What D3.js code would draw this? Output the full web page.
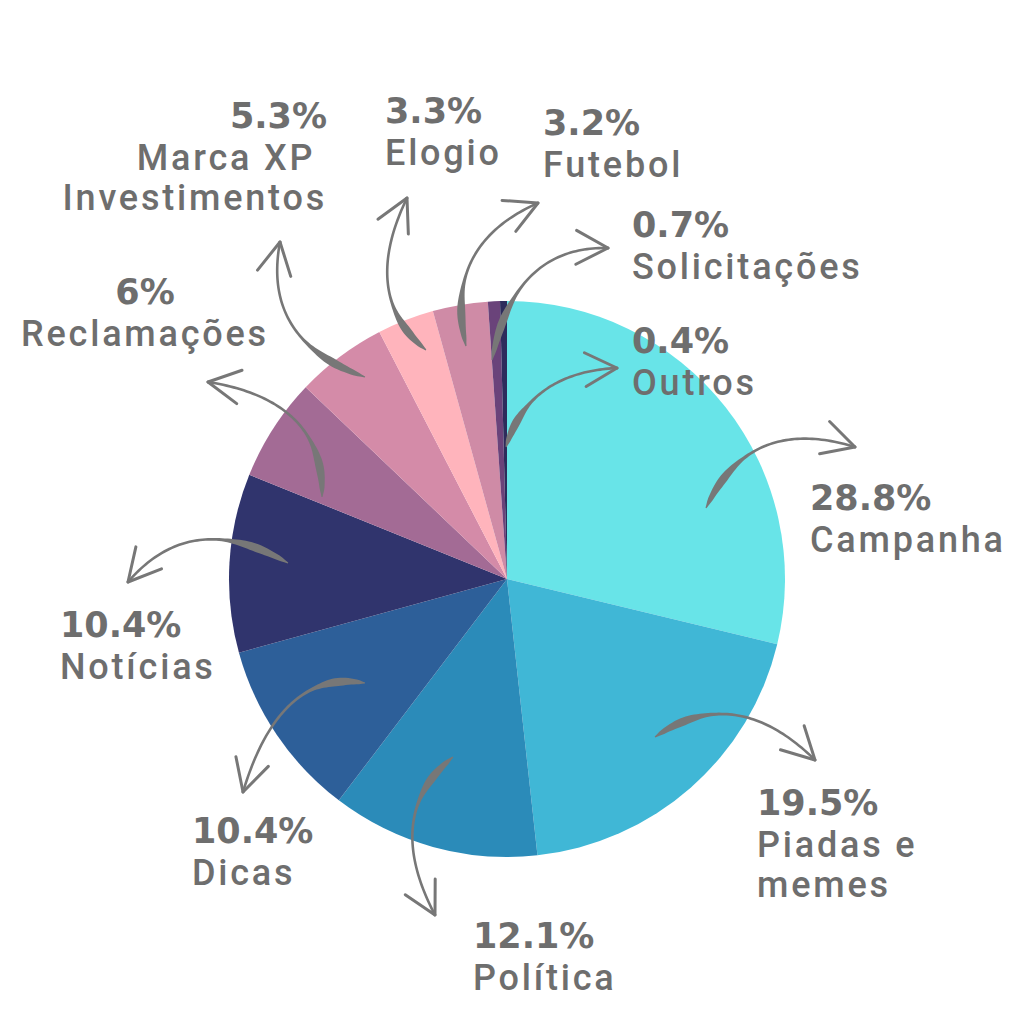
<!DOCTYPE html>
<html><head><meta charset="utf-8">
<script src="https://cdn.jsdelivr.net/npm/d3@7"></script>
<style>
html,body{margin:0;padding:0;background:#fff;}
svg{display:block;}
text{font-family:Roboto,"Noto Sans",sans-serif;fill:#6e6e6e;}
</style></head>
<body>
<svg id="chart" width="1024" height="1024"></svg>
<script>
// ---- data ----
const categories = ["Campanha","Piadas e memes","Política","Dicas","Notícias","Reclamações","Marca XP Investimentos","Elogio","Futebol","Solicitações","Outros"];
const values = [28.8,19.5,12.1,10.4,10.4,6,5.3,3.3,3.2,0.7,0.4];
const colors = ["#68e4e8","#40b7d6","#2b8bb9","#2d5f99","#30346d","#a36b95","#d48ba8","#ffb4bc","#cf8ba6","#6a437a","#2d2c5c"];
// label text lines (after the percentage line)
const labelLines = [["Campanha"],["Piadas e","memes"],["Política"],["Dicas"],["Notícias"],["Reclamações"],["Marca XP ","Investimentos"],["Elogio"],["Futebol"],["Solicitações"],["Outros"]];

// ---- layout (positions only) ----
const cx = 507, cy = 579, R = 278;
// x, baseline of first line, anchor
const labelPos = [
  {x:810,y:510,a:"start"},
  {x:757,y:815,a:"start"},
  {x:473,y:948,a:"start"},
  {x:192,y:843,a:"start"},
  {x:60,y:637,a:"start"},
  {x:145,y:304,a:"middle"},
  {x:327,y:128,a:"end"},
  {x:385,y:123,a:"start"},
  {x:543,y:135,a:"start"},
  {x:632,y:237,a:"start"},
  {x:632,y:353,a:"start"}
];
// arrows: start, mid, end (tip)
const arrows = [
  [[706,508],[765,446],[855,447]],
  [[655,737],[735,715],[815,760]],
  [[453,757],[413,825],[435,915]],
  [[365,683],[292,703],[243,792]],
  [[288,563],[200,540],[128,582]],
  [[322,497],[295,420],[208,382]],
  [[365,377],[292,325],[280,242]],
  [[426,350],[388,285],[407,198]],
  [[466,346],[472,260],[538,203]],
  [[492,360],[532,275],[608,248]],
  [[506,447],[545,390],[617,368]]
];

const svg = d3.select("#chart");

// ---- pie ----
const pie = d3.pie().sort(null).value(d => d);
const arc = d3.arc().innerRadius(0).outerRadius(R);
const g = svg.append("g").attr("transform", `translate(${cx},${cy})`);
g.selectAll("path").data(pie(values)).join("path")
  .attr("d", arc)
  .attr("fill", (d,i) => colors[i]);

// ---- arrows ----
const arrowColor = "#777";
function qpt(s,c,e,t){const u=1-t;return [u*u*s[0]+2*u*t*c[0]+t*t*e[0], u*u*s[1]+2*u*t*c[1]+t*t*e[1]];}
function qtan(s,c,e,t){const u=1-t;return [2*u*(c[0]-s[0])+2*t*(e[0]-c[0]), 2*u*(c[1]-s[1])+2*t*(e[1]-c[1])];}
const ag = svg.append("g");
arrows.forEach(([s,m,e]) => {
  const c = [2*m[0]-(s[0]+e[0])/2, 2*m[1]-(s[1]+e[1])/2];
  const N = 60, left = [], right = [];
  for (let k=0;k<=N;k++){
    const t = k/N;
    const p = qpt(s,c,e,t), tg = qtan(s,c,e,t);
    const L = Math.hypot(tg[0],tg[1]);
    const nx = -tg[1]/L, ny = tg[0]/L;
    let w = 2.6 + 5.5*Math.exp(-Math.pow((t-0.17)/0.13,2));
    if (t < 0.04) w *= (0.3 + 0.7*t/0.04);
    left.push([p[0]+nx*w/2, p[1]+ny*w/2]);
    right.push([p[0]-nx*w/2, p[1]-ny*w/2]);
  }
  const poly = left.concat(right.reverse());
  ag.append("path").attr("d", d3.line()(poly)+"Z").attr("fill", arrowColor);
  // arrow head
  const tg = qtan(s,c,e,1); const L = Math.hypot(tg[0],tg[1]);
  const dx = tg[0]/L, dy = tg[1]/L;
  const hl = 36, ang = 28*Math.PI/180;
  [ang,-ang].forEach(a => {
    const rx = dx*Math.cos(a) - dy*Math.sin(a);
    const ry = dx*Math.sin(a) + dy*Math.cos(a);
    ag.append("line").attr("x1", e[0]).attr("y1", e[1])
      .attr("x2", e[0]-rx*hl).attr("y2", e[1]-ry*hl)
      .attr("stroke", arrowColor).attr("stroke-width", 3).attr("stroke-linecap","round");
  });
});

// ---- labels ----
const fmt = v => (Number.isInteger(v) ? v : v.toFixed(1)) + "%";
const lg = svg.append("g");
values.forEach((v,i) => {
  const p = labelPos[i];
  const t = lg.append("text").attr("text-anchor", p.a).attr("x", p.x).attr("y", p.y);
  t.append("tspan").attr("x", p.x).attr("y", p.y)
    .style("font-family","'DejaVu Sans',sans-serif")
    .style("font-weight", 700).style("font-size", "35px").text(fmt(v));
  labelLines[i].forEach((ln, j) => {
    t.append("tspan").attr("x", p.x).attr("y", p.y + 42 + j*40)
      .style("font-weight", 500).style("font-size", "36px").style("letter-spacing","2.8px")
      .style("white-space","pre").text(ln);
  });
});
</script>
</body></html>
